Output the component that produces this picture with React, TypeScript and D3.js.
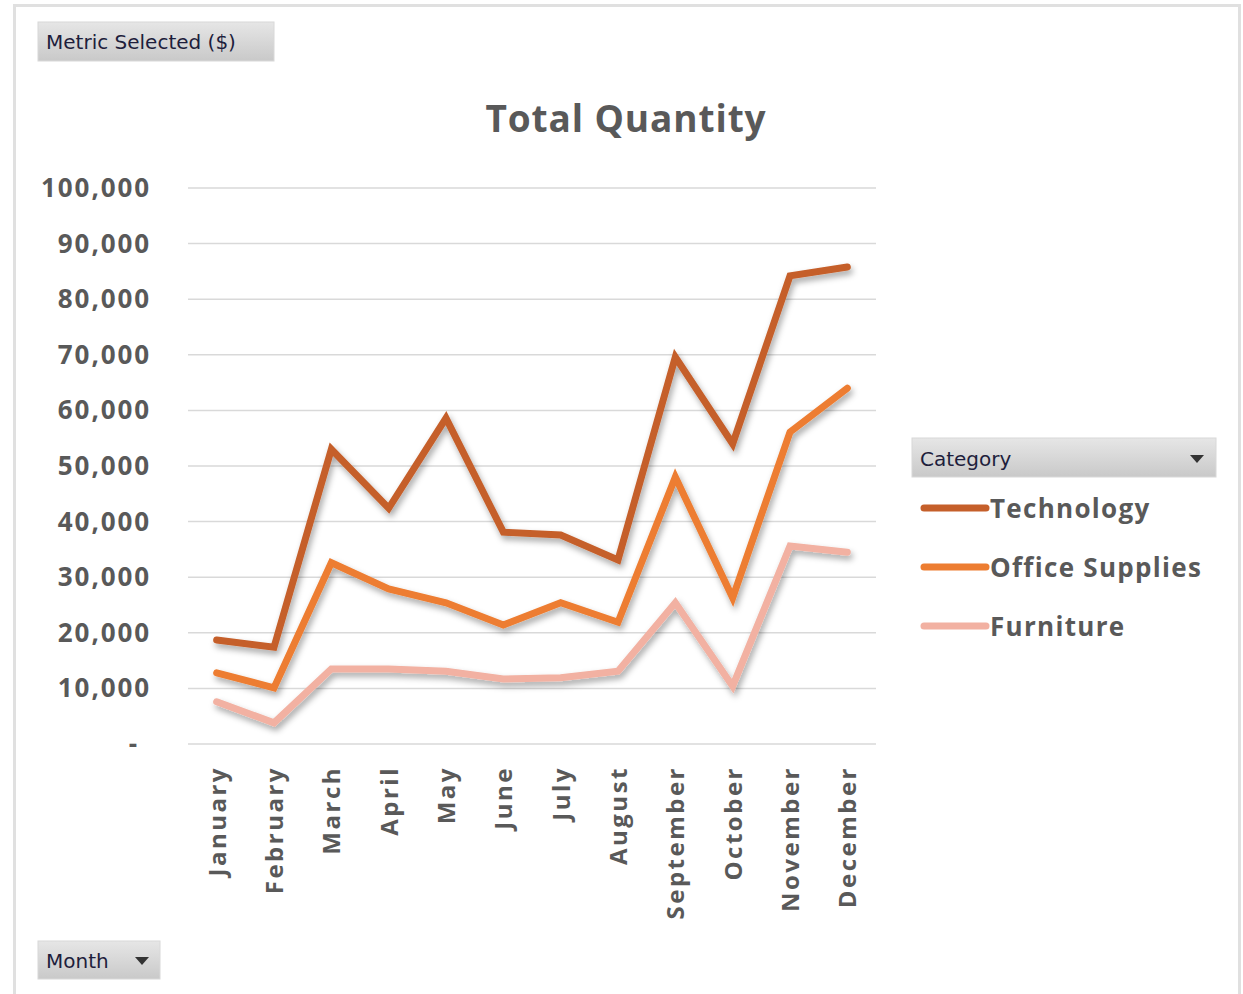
import React from "react";
import * as d3 from "d3";

const months = ["January","February","March","April","May","June","July","August","September","October","November","December"];
const technology = [18700,17400,53000,42400,58600,38100,37600,33100,69600,54000,84200,85800];
const officeSupplies = [12800,10100,32600,27900,25400,21400,25400,21900,48000,26300,56100,64000];
const furniture = [7600,3800,13500,13500,13100,11700,11900,13100,25400,10400,35600,34500];
const yTicks = [0,10000,20000,30000,40000,50000,60000,70000,80000,90000,100000];

const seriesNames = ["Technology","Office Supplies","Furniture"];
const seriesColors = ["#C55F2A","#ED7D31","#F2B1A2"];

export default function App() {
  const W = 1243, H = 994;
  const left = 188, right = 876, top = 188, bottom = 744;
  const x = d3.scaleBand<string>().domain(months).range([left, right]);
  const y = d3.scaleLinear().domain([0, 100000]).range([bottom, top]);
  const line = d3.line<number>().x((_, i) => (x(months[i]) as number) + x.bandwidth() / 2).y(d => y(d));
  const series = [technology, officeSupplies, furniture];
  const fmt = d3.format(",");
  const grey = "#595959";
  const boldFont = "'Open Sans', 'Noto Sans', sans-serif";
  const btnFont = "'DejaVu Sans', sans-serif";

  return (
    <div style={{ position: "absolute", left: 0, top: 0 }}>
      <svg width={W} height={H} style={{ display: "block" }}>
        <defs>
          <linearGradient id="btn" x1="0" y1="0" x2="0" y2="1">
            <stop offset="0" stopColor="#e6e6e6" />
            <stop offset="1" stopColor="#c9c9c9" />
          </linearGradient>
          <filter id="shadow" x="-10%" y="-10%" width="130%" height="130%">
            <feDropShadow dx="2" dy="4" stdDeviation="3" floodColor="#000" floodOpacity="0.35" />
          </filter>
        </defs>
        <rect x={0} y={0} width={W} height={H} fill="#fff" />
        <rect x={14.5} y={5.5} width={1225} height={1000} fill="#fff" stroke="#e0e0e0" strokeWidth={3} />

        {/* Metric Selected button */}
        <rect x={38} y={22} width={236} height={39} fill="url(#btn)" stroke="#d8d8d8" />
        <text x={46} y={49} fontFamily={btnFont} fontSize={20} fill="#1e1e3c">Metric Selected ($)</text>

        {/* Title */}
        <text x={626} y={132} textAnchor="middle" fontFamily={boldFont} fontWeight={700} fontSize={37} fill={grey} style={{ letterSpacing: "0.9px" }}>Total Quantity</text>

        {/* grid */}
        {yTicks.map(t => (
          <line key={t} x1={left} x2={right} y1={y(t)} y2={y(t)} stroke="#d9d9d9" strokeWidth={1.5} />
        ))}
        {yTicks.map(t => (
          <text key={"l" + t} x={t === 0 ? 139 : 151} y={y(t) + 9} textAnchor="end" fontFamily={boldFont} fontWeight={700} fontSize={26} fill={grey} style={{ letterSpacing: "1.9px" }}>
            {t === 0 ? "-" : fmt(t)}
          </text>
        ))}

        {/* x labels */}
        {months.map(m => {
          const cx = (x(m) as number) + x.bandwidth() / 2;
          return (
            <text key={m} transform={`translate(${cx + 9},${766}) rotate(-90)`} textAnchor="end" fontFamily={boldFont} fontWeight={700} fontSize={24} fill={grey} style={{ letterSpacing: "2.5px" }}>{m}</text>
          );
        })}

        {/* lines */}
        {series.slice().reverse().map((s, ri) => {
          const i = series.length - 1 - ri;
          return (
            <path key={seriesNames[i]} d={line(s) as string} fill="none" stroke={seriesColors[i]} strokeWidth={7} strokeLinejoin="miter" strokeLinecap="round" filter="url(#shadow)" />
          );
        })}

        {/* Legend */}
        <rect x={912} y={438} width={304} height={39} fill="url(#btn)" stroke="#d8d8d8" />
        <text x={920} y={466} fontFamily={btnFont} fontSize={20} fill="#1e1e3c">Category</text>
        <path d="M1190,455 L1204,455 L1197,463 Z" fill="#333" />
        {seriesNames.map((n, i) => (
          <g key={n}>
            <line x1={924} x2={986} y1={508 + i * 59} y2={508 + i * 59} stroke={seriesColors[i]} strokeWidth={7} strokeLinecap="round" />
            <text x={990} y={518 + i * 59} fontFamily={boldFont} fontWeight={700} fontSize={26} fill={grey} style={{ letterSpacing: "1.3px" }}>{n}</text>
          </g>
        ))}

        {/* Month button */}
        <rect x={38} y={941} width={122} height={38} fill="url(#btn)" stroke="#d8d8d8" />
        <text x={46} y={968} fontFamily={btnFont} fontSize={20} fill="#1e1e3c">Month</text>
        <path d="M135,957 L149,957 L142,965 Z" fill="#333" />
      </svg>
    </div>
  );
}
